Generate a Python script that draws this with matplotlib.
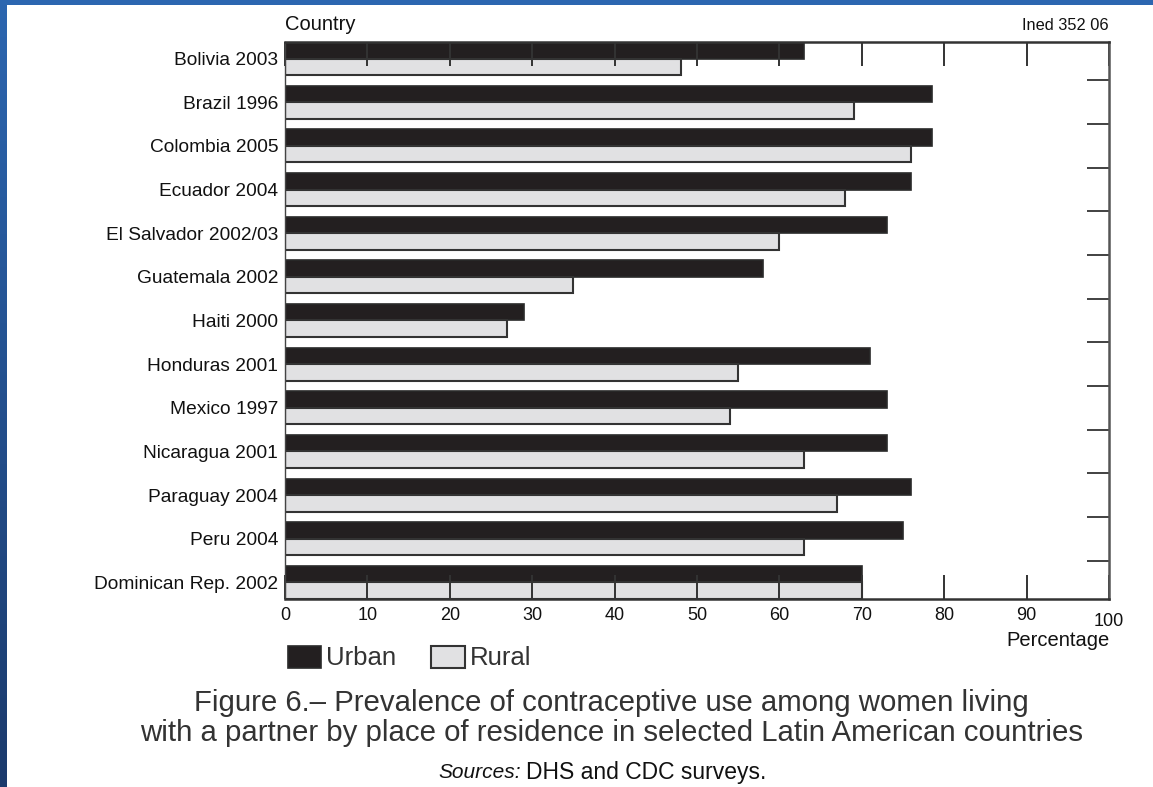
import matplotlib
matplotlib.use("Agg")
import matplotlib.pyplot as plt
import numpy as np
from matplotlib.patches import Rectangle
from matplotlib.ticker import FixedLocator

countries = ["Bolivia 2003", "Brazil 1996", "Colombia 2005", "Ecuador 2004",
             "El Salvador 2002/03", "Guatemala 2002", "Haiti 2000", "Honduras 2001",
             "Mexico 1997", "Nicaragua 2001", "Paraguay 2004", "Peru 2004",
             "Dominican Rep. 2002"]
urban = [63, 78.5, 78.5, 76, 73, 58, 29, 71, 73, 73, 76, 75, 70]
rural = [48, 69, 76, 68, 60, 35, 27, 55, 54, 63, 67, 63, 70]
x_ticks = [0, 10, 20, 30, 40, 50, 60, 70, 80, 90, 100]

plt.rcParams['font.family'] = ['Liberation Sans', 'DejaVu Sans']

W, H = 1153, 787
fig = plt.figure(figsize=(W / 100, H / 100), dpi=100)
fig.patch.set_facecolor("white")

# slide background strips
grad = np.linspace(0, 1, 256).reshape(-1, 1)
bax = fig.add_axes([0, 0, 7 / W, 1])
bax.imshow(grad, aspect="auto", cmap=matplotlib.colors.LinearSegmentedColormap.from_list(
    "b", ["#2c66b0", "#1b3a6c"]), extent=[0, 1, 0, 1])
bax.axis("off")
fig.add_artist(Rectangle((0, 1 - 5 / H), 1, 5 / H, transform=fig.transFigure,
                         facecolor="#2c66b0", edgecolor="none"))

left, right, top, bottom = 285 / W, 1109 / W, 1 - 42 / H, 1 - 599 / H
ax = fig.add_axes([left, bottom, right - left, top - bottom])

h = 0.38
y = np.arange(len(countries))
ax.barh(y - h / 2, urban, height=h, color="#231f20", edgecolor="#2a2a2a", linewidth=1.2)
ax.barh(y + h / 2, rural, height=h, color="#e1e1e3", edgecolor="#333333", linewidth=1.5)

ax.set_xlim(0, 100)
ax.set_ylim(len(countries) - 1 + h, -h)

ax.set_yticks(y)
ax.set_yticklabels(countries, fontsize=13.8, color="#111111")
ax.yaxis.set_minor_locator(FixedLocator(y[:-1] + 0.5))
ax.tick_params(axis="y", which="major", left=False, right=False, length=0, pad=5)
ax.tick_params(axis="y", which="minor", left=False, right=True, direction="in",
               length=16, width=1.3, color="#333333")

ax.set_xticks(x_ticks)
ax.set_xticklabels([str(v) for v in x_ticks], fontsize=13, color="#111111")
ax.tick_params(axis="x", which="major", top=True, bottom=True, direction="in",
               length=17, width=1.4, color="#333333", pad=6)
ax.xaxis.get_major_ticks()[-1].set_pad(10)

for s in ["top", "bottom"]:
    ax.spines[s].set_linewidth(1.8)
    ax.spines[s].set_color("#333333")
ax.spines["right"].set_linewidth(1.8)
ax.spines["right"].set_color("#555555")
ax.spines["left"].set_linewidth(1.0)
ax.spines["left"].set_color("#444444")

fig.text(285 / W, 1 - 24 / H, "Country", fontsize=14.5, ha="left", va="center", color="#111111")
fig.text(1109 / W, 1 - 26 / H, "Ined 352 06", fontsize=11.8, ha="right", va="center", color="#111111")
fig.text(1110 / W, 1 - 640 / H, "Percentage", fontsize=14.5, ha="right", va="center", color="#111111")

# legend
handles = [Rectangle((0, 0), 1, 1, facecolor="#231f20", edgecolor="#2a2a2a", linewidth=1.2),
           Rectangle((0, 0), 1, 1, facecolor="#e1e1e3", edgecolor="#333333", linewidth=1.5)]
fig.legend(handles, ["Urban", "Rural"], loc="center left",
           bbox_to_anchor=(275 / W, 1 - 658 / H), ncol=2, frameon=False,
           fontsize=18.5, handlelength=1.3, handleheight=0.95, handletextpad=0.2,
           columnspacing=1.35, borderpad=0, labelcolor="#333333")

fig.text(0.530, 1 - 703 / H, "Figure 6.\u2013 Prevalence of contraceptive use among women living",
         fontsize=21.2, ha="center", va="center", color="#333333")
fig.text(0.530, 1 - 733 / H, "with a partner by place of residence in selected Latin American countries",
         fontsize=21.2, ha="center", va="center", color="#333333")
fig.text(521 / W, 1 - 772 / H, "Sources:", fontsize=15, style="italic",
         ha="right", va="center", color="#111111")
fig.text(526 / W, 1 - 772 / H, "DHS and CDC surveys.", fontsize=16.5,
         ha="left", va="center", color="#111111")

fig.savefig("out.png", dpi=100)
